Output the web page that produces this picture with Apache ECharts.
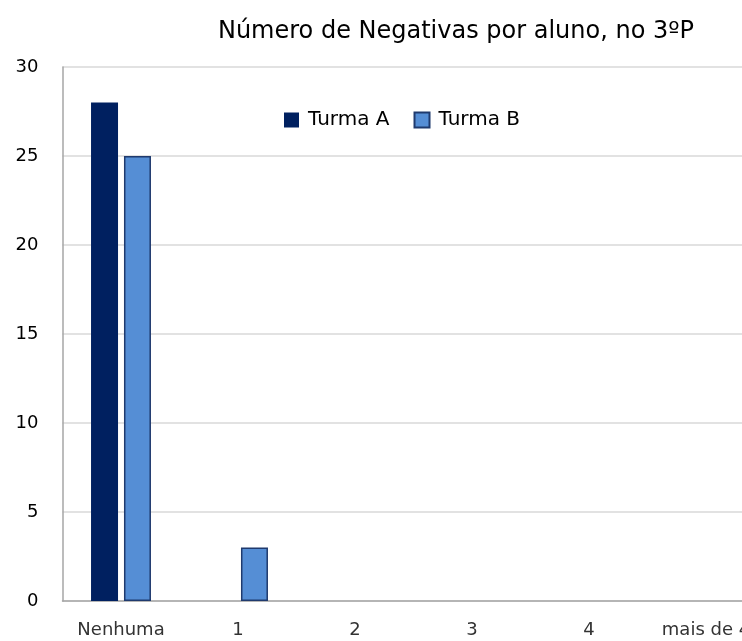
<!DOCTYPE html>
<html>
<head>
<meta charset="utf-8">
<script src="https://cdn.jsdelivr.net/npm/echarts@6/dist/echarts.min.js"></script>
<style>
  html, body { margin: 0; padding: 0; background: #fff; }
  #chart { width: 742px; height: 641px; }
</style>
</head>
<body>
<div id="chart"></div>
<script>
const categories = ['Nenhuma', '1', '2', '3', '4', 'mais de 4']
const turmaA = [28, 0, 0, 0, 0, 0]
const turmaB = [25, 3, 0, 0, 0, 0]

const chart = echarts.init(document.getElementById('chart'))
const font = 'DejaVu Sans'

// zero bars are not drawn in the original, only the axis line shows
const hideZero = (arr) => arr.map((v) => (v === 0 ? '-' : v))

chart.setOption({
  animation: false,
  title: {
    text: 'Número de Negativas por aluno, no 3ºP',
    left: 451,
    textAlign: 'center',
    top: 15,
    textStyle: { fontFamily: font, fontSize: 24, fontWeight: 'normal', color: '#000' }
  },
  legend: {
    left: 279,
    top: 105,
    icon: 'rect',
    itemWidth: 15,
    itemHeight: 15,
    itemGap: 24,
    textStyle: { fontFamily: font, fontSize: 20, color: '#000', padding: [0, 0, 0, 4] },
    data: ['Turma A', 'Turma B']
  },
  grid: {
    left: 62.5,
    top: 67,
    width: 702,
    height: 534,
    containLabel: false,
    outerBoundsMode: 'none'
  },
  xAxis: {
    type: 'category',
    data: categories,
    axisLine: { lineStyle: { color: '#a6a6a6', width: 1.5 } },
    axisTick: { show: false },
    axisLabel: { interval: 0, fontFamily: font, fontSize: 18, color: '#333', margin: 20 }
  },
  yAxis: {
    type: 'value',
    min: 0,
    max: 30,
    interval: 5,
    axisLine: { show: true, lineStyle: { color: '#a6a6a6', width: 1.5 } },
    axisTick: { show: false },
    splitLine: { lineStyle: { color: '#d9d9d9', width: 1.5 } },
    axisLabel: { fontFamily: font, fontSize: 18, color: '#000', margin: 24 }
  },
  series: [
    {
      name: 'Turma A',
      type: 'bar',
      barWidth: 27,
      barGap: '22%',
      itemStyle: { color: '#002060' },
      data: hideZero(turmaA)
    },
    {
      name: 'Turma B',
      type: 'bar',
      barWidth: 27,
      itemStyle: { color: '#558ed5', borderColor: '#1f3a6e', borderWidth: 1.5 },
      data: hideZero(turmaB)
    }
  ]
})
</script>
</body>
</html>
